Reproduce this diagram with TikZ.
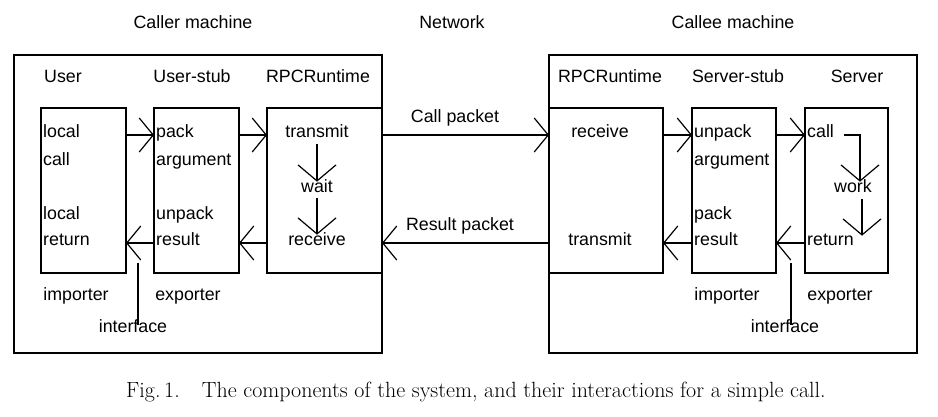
\documentclass[tikz,border=0pt]{standalone}
\usepackage{fontspec}
\setsansfont{Liberation Sans}
\usetikzlibrary{arrows.meta}
\tikzset{
  lbl/.style={font=\sffamily\fontsize{17.8}{20}\selectfont, inner sep=1pt, text height=1.6ex, text depth=.3ex},
  machine/.style={draw, line width=2.4pt, inner sep=0pt, outer sep=0pt, minimum width=368pt, minimum height=298pt},
  comp/.style={draw, line width=1.4pt, inner sep=0pt, outer sep=0pt, minimum height=165pt},
  arr/.style={line width=1.2pt, -{Straight Barb[length=14pt,width=34pt,line width=1.2pt]}},
  darr/.style={line width=1.2pt, -{Straight Barb[length=16pt,width=38pt,line width=1.2pt]}}
}
\begin{document}
\begin{tikzpicture}[x=1pt,y=-1pt]
  \useasboundingbox (0,0) rectangle (938,416);
  % machines
  \node[machine] (caller) at (198,204) {};
  \node[machine] (callee) at (733,204) {};
  % components
  \node[comp, minimum width=85pt] (user) at (83.5,190.5) {};
  \node[comp, minimum width=85pt] (ustub) at (196.5,190.5) {};
  \node[comp, minimum width=115pt] (crpc) at (324.5,190.5) {};
  \node[comp, minimum width=114pt] (srpc) at (606,190.5) {};
  \node[comp, minimum width=84pt] (sstub) at (734,190.5) {};
  \node[comp, minimum width=83pt] (server) at (846.5,190.5) {};
  % titles
  \node[lbl] (tcaller) at (193,26) {Caller machine};
  \node[lbl] (tnet) at (452,26) {Network};
  \node[lbl] (tcallee) at (733,26) {Callee machine};
  \node[lbl] (huser) at (63,80) {User};
  \node[lbl] (hustub) at (192,80) {User-stub};
  \node[lbl] (hcrpc) at (318,80) {RPCRuntime};
  \node[lbl] (hsrpc) at (610,80) {RPCRuntime};
  \node[lbl] (hsstub) at (738,80) {Server-stub};
  \node[lbl] (hserver) at (857,80) {Server};
  % caller side
  \node[lbl, anchor=west] (ulocal) at (42,135) {local};
  \node[lbl, anchor=west] (ucall) at (42,163) {call};
  \node[lbl, anchor=west] (ulocal2) at (42,217) {local};
  \node[lbl, anchor=west] (ureturn) at (42,243) {return};
  \node[lbl, anchor=west] (upack) at (155,135) {pack};
  \node[lbl, anchor=west] (uarg) at (155,163) {argument};
  \node[lbl, anchor=west] (uunpack) at (155,217) {unpack};
  \node[lbl, anchor=west] (uresult) at (155,243) {result};
  \node[lbl] (ctransmit) at (317,135) {transmit};
  \node[lbl] (cwait) at (317,190) {wait};
  \node[lbl] (creceive) at (317,243) {receive};
  \node[lbl] (cimp) at (76,298) {importer};
  \node[lbl] (cexp) at (188,298) {exporter};
  \node[lbl] (cif) at (133,330) {interface};
  % callee side
  \node[lbl] (sreceive) at (600,135) {receive};
  \node[lbl] (stransmit) at (600,243) {transmit};
  \node[lbl, anchor=west] (sunpack) at (693,135) {unpack};
  \node[lbl, anchor=west] (sarg) at (693,163) {argument};
  \node[lbl, anchor=west] (spack) at (693,217) {pack};
  \node[lbl, anchor=west] (sresult) at (693,243) {result};
  \node[lbl, anchor=west] (scall) at (806,135) {call};
  \node[lbl] (swork) at (853,190) {work};
  \node[lbl, anchor=west] (sreturn) at (806,243) {return};
  \node[lbl] (simp) at (727,298) {importer};
  \node[lbl] (sexp) at (840,298) {exporter};
  \node[lbl] (sif) at (785,330) {interface};
  % network
  \node[lbl] (callpk) at (455,120) {Call packet};
  \node[lbl] (respk) at (460,228) {Result packet};
  \node[font=\fontsize{22}{24}\selectfont] (caption) at (476,392)
    {Fig.\,1.\quad The components of the system, and their interactions for a simple call.};
  % flow
  \coordinate (top) at (0,135);
  \coordinate (bot) at (0,243);
  \draw[arr] (user.east |- top) -- (ustub.west |- top);
  \draw[arr] (ustub.east |- top) -- (crpc.west |- top);
  \draw[darr, shorten <=4pt, shorten >=3pt] (ctransmit.south) -- (cwait.north);
  \draw[darr, shorten <=3pt, shorten >=3pt] (cwait.south) -- (creceive.north);
  \draw[arr] (crpc.west |- bot) -- (ustub.east |- bot);
  \draw[arr] (ustub.west |- bot) -- (user.east |- bot);
  \draw[arr] (caller.east |- top) -- (srpc.west |- top);
  \draw[arr] (srpc.west |- bot) -- (caller.east |- bot);
  \draw[arr] (srpc.east |- top) -- (sstub.west |- top);
  \draw[arr] (sstub.east |- top) -- (server.west |- top);
  \draw[darr, shorten >=3pt] ([xshift=9pt]scall.east) -| ([xshift=7pt]swork.north);
  \draw[darr, shorten <=4pt, shorten >=2pt] ([xshift=9pt]swork.south) -- ([xshift=9pt]swork.south |- sreturn.north);
  \draw[arr] (server.west |- bot) -- (sstub.east |- bot);
  \draw[arr] (sstub.west |- bot) -- (srpc.east |- bot);
  % interfaces
  \coordinate (cifTop) at (138,263);
  \coordinate (sifTop) at (791,263);
  \draw[line width=1.2pt] (cifTop) -- (cif.north -| cifTop);
  \draw[line width=1.2pt] (sifTop) -- (sif.north -| sifTop);
\end{tikzpicture}
\end{document}
